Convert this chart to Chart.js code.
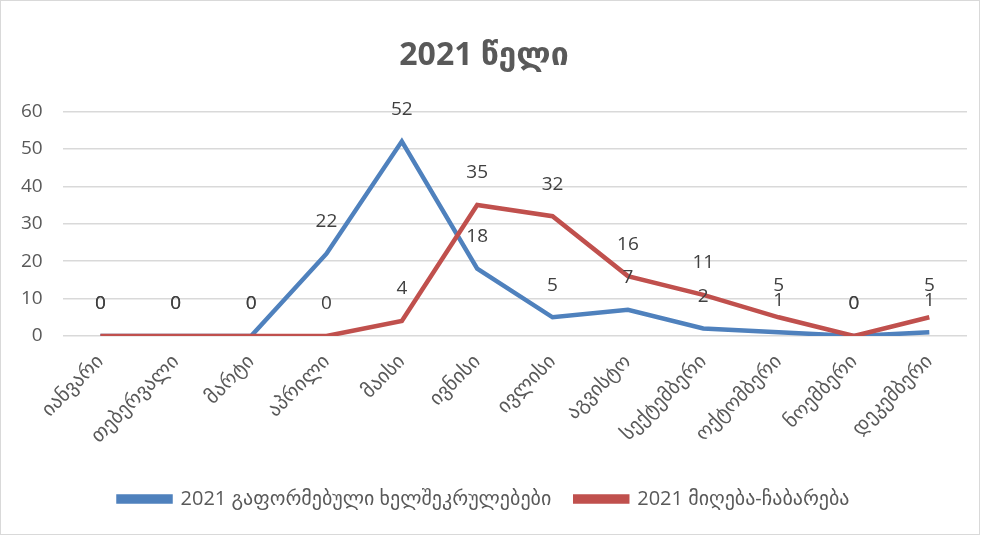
<!DOCTYPE html>
<html>
<head>
<meta charset="utf-8">
<script src="https://cdn.jsdelivr.net/npm/chart.js@4/dist/chart.umd.min.js"></script>
<style>
  html, body { margin: 0; padding: 0; background: #fff; }
  #wrap { width: 980px; height: 535px; border: 1px solid #d9d9d9; box-sizing: border-box; position: relative; }
</style>
</head>
<body>
<div id="wrap"><canvas id="grafico"></canvas></div>
<script>
// თვეები
const tveebi = ['იანვარი', 'თებერვალი', 'მარტი', 'აპრილი', 'მაისი', 'ივნისი',
  'ივლისი', 'აგვისტო', 'სექტემბერი', 'ოქტომბერი', 'ნოემბერი', 'დეკემბერი'];
const xelshekrulebebi = [0, 0, 0, 22, 52, 18, 5, 7, 2, 1, 0, 1];
const migebaChabareba = [0, 0, 0, 0, 4, 35, 32, 16, 11, 5, 0, 5];
const yTicks = [0, 10, 20, 30, 40, 50, 60];

const fontFam = '"Open Sans", "DejaVu Sans", sans-serif';

// values above each point
const etiketebi = {
  id: 'etiketebi',
  afterDatasetsDraw(chart) {
    const ctx = chart.ctx;
    ctx.save();
    ctx.font = '19px ' + fontFam;
    ctx.fillStyle = '#404040';
    ctx.textAlign = 'center';
    ctx.textBaseline = 'middle';
    chart.data.datasets.forEach((ds, i) => {
      chart.getDatasetMeta(i).data.forEach((pt, j) => {
        ctx.fillText(String(ds.data[j]), pt.x, pt.y - 32);
      });
    });
    ctx.restore();
  }
};

new Chart(document.getElementById('grafico'), {
  type: 'line',
  data: {
    labels: tveebi,
    datasets: [{
      label: '2021 გაფორმებული ხელშეკრულებები',
      data: xelshekrulebebi,
      borderColor: '#4f81bd',
      backgroundColor: '#4f81bd',
      borderWidth: 4.5,
      pointRadius: 0,
      tension: 0,
      order: 1
    }, {
      label: '2021 მიღება-ჩაბარება',
      data: migebaChabareba,
      borderColor: '#c0504d',
      backgroundColor: '#c0504d',
      borderWidth: 4.5,
      pointRadius: 0,
      tension: 0,
      order: 0
    }]
  },
  options: {
    responsive: true,
    maintainAspectRatio: false,
    animation: false,
    layout: { padding: { left: 0, right: 12, top: 0, bottom: 15 } },
    plugins: {
      title: {
        display: true,
        text: '2021 წელი',
        color: '#595959',
        font: { family: fontFam, size: 32, weight: 'bold' },
        padding: { top: 36, bottom: 36 }
      },
      legend: {
        position: 'bottom',
        labels: {
          color: '#595959',
          font: { family: fontFam, size: 20 },
          boxWidth: 52,
          boxHeight: 5,
          padding: 24,
          sort: (a, b) => a.datasetIndex - b.datasetIndex
        }
      },
      tooltip: { enabled: false }
    },
    scales: {
      x: {
        offset: true,
        grid: { display: false },
        border: { display: false },
        afterFit: (axis) => { axis.height = 129; },
        ticks: {
          color: '#595959',
          font: { family: fontFam, size: 20 },
          minRotation: 45,
          maxRotation: 45,
          padding: 6
        }
      },
      y: {
        min: 0,
        max: 60,
        afterBuildTicks: (axis) => { axis.ticks = yTicks.map(v => ({ value: v })); },
        grid: { color: '#d9d9d9', lineWidth: 1.5, drawTicks: false },
        border: { display: false },
        ticks: {
          color: '#595959',
          font: { family: fontFam, size: 19 },
          padding: 20
        }
      }
    }
  },
  plugins: [etiketebi]
});
</script>
</body>
</html>
